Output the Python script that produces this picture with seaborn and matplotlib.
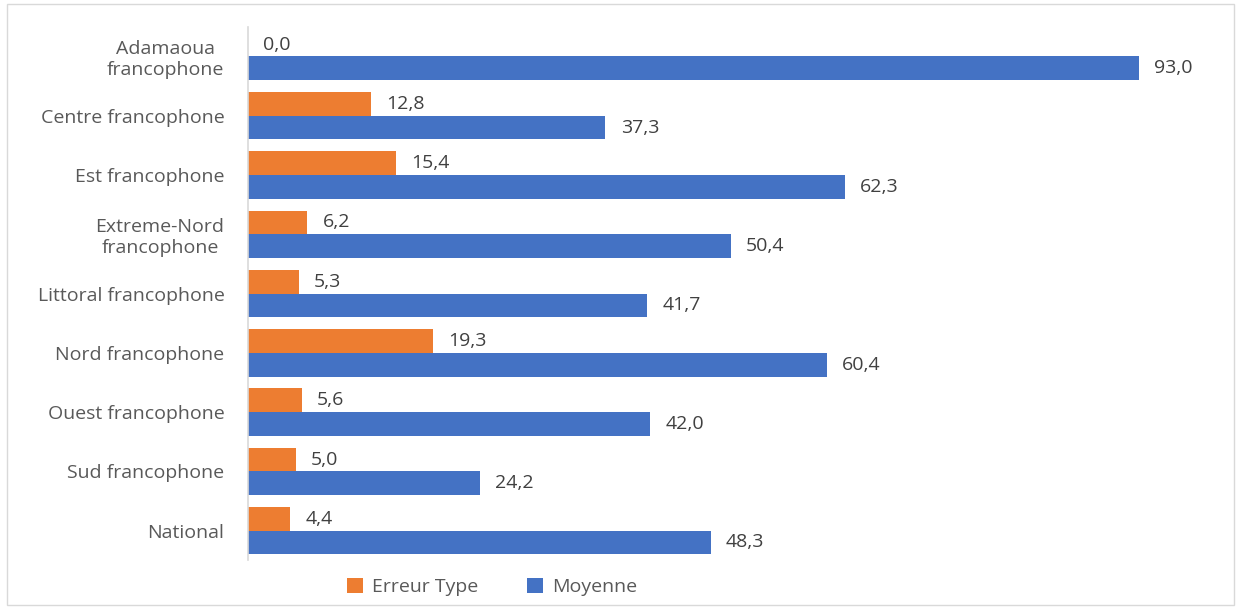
import matplotlib
matplotlib.use("Agg")
import matplotlib.pyplot as plt
import seaborn as sns
import pandas as pd
from matplotlib.patches import Rectangle

categories = ["Adamaoua\nfrancophone", "Centre francophone", "Est francophone",
              "Extreme-Nord\nfrancophone", "Littoral francophone", "Nord francophone",
              "Ouest francophone", "Sud francophone", "National"]
erreur_type = [0.0, 12.8, 15.4, 6.2, 5.3, 19.3, 5.6, 5.0, 4.4]
moyenne = [93.0, 37.3, 62.3, 50.4, 41.7, 60.4, 42.0, 24.2, 48.3]
series = ["Erreur Type", "Moyenne"]
colors = ["#ED7D31", "#4472C4"]

df = pd.DataFrame({
    "cat": categories * 2,
    "val": erreur_type + moyenne,
    "serie": [series[0]] * len(categories) + [series[1]] * len(categories),
})

sns.set_theme(style="white")
plt.rcParams["font.family"] = ["Open Sans", "DejaVu Sans"]

fig = plt.figure(figsize=(12.39, 6.09), dpi=100)
ax = fig.add_axes([0.2002, 0.080, 0.773, 0.876])
sns.barplot(data=df, y="cat", x="val", hue="serie", order=categories,
            hue_order=series, palette=colors, orient="h", width=0.8,
            saturation=1, linewidth=0, ax=ax, legend=True)

ax.set_xlim(0, 100)
ax.set_xlabel("")
ax.set_ylabel("")
ax.set_xticks([])
for s in ["top", "right", "bottom"]:
    ax.spines[s].set_visible(False)
ax.spines["left"].set_color("#d9d9d9")
ax.spines["left"].set_linewidth(1.2)
ax.tick_params(axis="y", length=0, pad=17, labelsize=14, labelcolor="#595959")
for lbl in ax.get_yticklabels():
    lbl.set_multialignment("center")

for cont in ax.containers:
    labels = [f"{v:.1f}".replace(".", ",") for v in cont.datavalues]
    ax.bar_label(cont, labels=labels, padding=11, fontsize=14, color="#404040")

handles, labs = ax.get_legend_handles_labels()
ax.legend(handles, labs, loc="upper center", bbox_to_anchor=(0.255, 0.0),
          ncol=2, frameon=False, fontsize=14, labelcolor="#595959",
          handlelength=0.8, handleheight=0.8, columnspacing=2.5, handletextpad=0.5)

fig.patches.append(Rectangle((0.006, 0.006), 0.99, 0.988, transform=fig.transFigure,
                             fill=False, edgecolor="#d9d9d9", linewidth=1))
fig.savefig("out.png", dpi=100)
